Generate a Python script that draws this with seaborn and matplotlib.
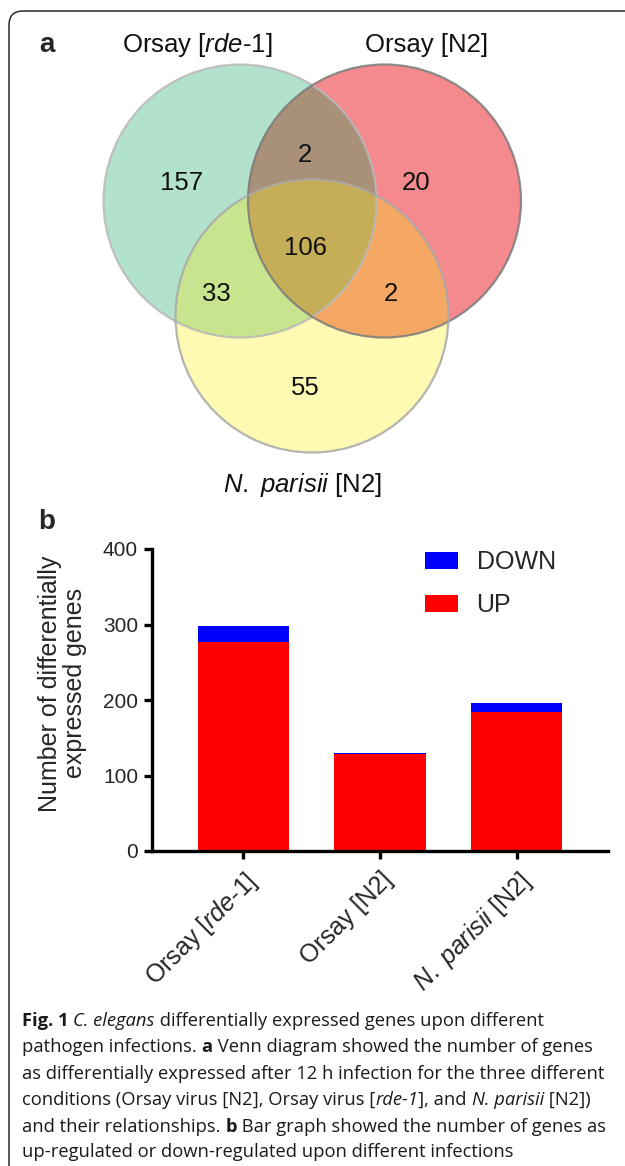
import numpy as np
import pandas as pd
import matplotlib
matplotlib.use("Agg")
import matplotlib.pyplot as plt
from matplotlib.patches import Circle, Polygon, Patch, FancyBboxPatch
import seaborn as sns

# ---------------- data ----------------
venn_sets = ["Orsay [rde-1]", "Orsay [N2]", "N. parisii [N2]"]
venn_region_keys = ["100", "010", "001", "110", "101", "011", "111"]
venn_region_counts = [157, 20, 55, 2, 33, 2, 106]

bar_categories = ["Orsay [rde-1]", "Orsay [N2]", "N. parisii [N2]"]
bar_tick_labels = [r"Orsay [$\mathit{rde}$-$\mathit{1}$]", "Orsay [N2]",
                   r"$\mathit{N.}$ $\mathit{parisii}$ [N2]"]
up_counts = [277, 128, 184]
down_counts = [21, 2, 12]
y_ticks = [0, 100, 200, 300, 400]

# ---------------- style ----------------
sns.set_style("white")
plt.rcParams['font.family'] = ['Liberation Sans', 'DejaVu Sans']
plt.rcParams['mathtext.fontset'] = 'custom'
plt.rcParams['mathtext.rm'] = 'Liberation Sans'
plt.rcParams['mathtext.it'] = 'Liberation Sans:italic'
plt.rcParams['mathtext.bf'] = 'Liberation Sans:bold'

W, H = 625, 1166
fig = plt.figure(figsize=(W / 100, H / 100), dpi=100)
fig.patch.set_facecolor("white")

# overlay axes in pixel coordinates
ov = fig.add_axes([0, 0, 1, 1], zorder=0)
ov.set_xlim(0, W)
ov.set_ylim(H, 0)
ov.axis("off")
ov.patch.set_alpha(0)

# frame
ov.add_patch(FancyBboxPatch((9, 11), 800, 1400,
                            boxstyle="round,pad=0,rounding_size=14",
                            fc="none", ec="#2a2a2a", lw=1.1))

# ---------------- Venn ----------------
centers = [(240, 201), (384.5, 201), (312, 316)]
radius = 136.5
base_cols = ["#b2e2cb", "#f48a8e", "#fffab3"]
edge_cols = ["#b9b9b9", "#7c7c7c", "#a8a8a8"]
pair_cols = {"110": "#a99079", "101": "#c8e48e", "011": "#f5a863", "111": "#c5ae57"}


def inside(p, c, tol=0.01):
    return np.hypot(p[:, 0] - c[0], p[:, 1] - c[1]) <= radius + tol


def intersection_poly(idx):
    t = np.linspace(0, 2 * np.pi, 3000, endpoint=False)
    pts = []
    for i in idx:
        cx, cy = centers[i]
        p = np.column_stack([cx + radius * np.cos(t), cy + radius * np.sin(t)])
        mask = np.ones(len(p), bool)
        for j in idx:
            if j != i:
                mask &= inside(p, centers[j])
        pts.append(p[mask])
    pts = np.vstack(pts)
    m = pts.mean(axis=0)
    ang = np.arctan2(pts[:, 1] - m[1], pts[:, 0] - m[0])
    return pts[np.argsort(ang)]


for c, col in zip(centers, base_cols):
    ov.add_patch(Circle(c, radius, fc=col, ec="none", zorder=1))
for key, idx in [("110", [0, 1]), ("101", [0, 2]), ("011", [1, 2]), ("111", [0, 1, 2])]:
    ov.add_patch(Polygon(intersection_poly(idx), closed=True, fc=pair_cols[key],
                         ec="none", zorder=2))
for c, ec in zip(centers, edge_cols):
    ov.add_patch(Circle(c, radius, fc="none", ec=ec, lw=1.6, alpha=0.85, zorder=3))

label_pos = {"100": (182, 183), "010": (416, 183), "001": (305, 388),
             "110": (305, 155), "101": (216, 294), "011": (391, 294), "111": (306, 248)}
for key, n in zip(venn_region_keys, venn_region_counts):
    x, y = label_pos[key]
    ov.text(x, y, str(n), ha="center", va="center", fontsize=18.5, color="#111111", zorder=4)

ov.text(197, 45, r"Orsay [$\mathit{rde}$-$\mathit{1}$]", ha="center", va="center",
        fontsize=18.5, color="#111111")
ov.text(427, 45, "Orsay [N2]", ha="center", va="center", fontsize=18.5, color="#111111")
ov.text(303, 485, r"$\mathit{N.}$ $\mathit{parisii}$ [N2]", ha="center", va="center",
        fontsize=18.5, color="#111111")

ov.text(47, 45, "a", ha="center", va="center", fontsize=20, fontweight="bold")
ov.text(47, 522, "b", ha="center", va="center", fontsize=20, fontweight="bold")

# ---------------- bar chart ----------------
axb = fig.add_axes([152 / W, 1 - 851 / H, (608 - 152) / W, (851 - 549) / H], zorder=5)
axb.patch.set_alpha(0)
df = pd.DataFrame({"condition": bar_categories,
                   "UP": up_counts,
                   "DOWN": down_counts})
df["total"] = df["UP"] + df["DOWN"]
sns.barplot(data=df, x="condition", y="total", color="#0000ff", saturation=1,
            width=0.665, ax=axb, order=bar_categories, linewidth=0)
sns.barplot(data=df, x="condition", y="UP", color="#ff0000", saturation=1,
            width=0.665, ax=axb, order=bar_categories, linewidth=0)
axb.set_xlim(-0.665, 2.665)
axb.set_ylim(0, 400)
axb.set_yticks(y_ticks)
axb.set_yticklabels([str(v) for v in y_ticks], fontsize=15)
axb.set_xticks(range(len(bar_categories)))
axb.set_xticklabels(bar_tick_labels, rotation=45, ha="right", rotation_mode="anchor",
                    fontsize=18)
axb.set_xlabel("")
axb.set_ylabel("Number of differentially\nexpressed genes", fontsize=18,
               linespacing=1.05)
axb.yaxis.set_label_coords(-0.142, 0.555)
for s in ["top", "right"]:
    axb.spines[s].set_visible(False)
for s in ["left", "bottom"]:
    axb.spines[s].set_linewidth(2.4)
    axb.spines[s].set_color("black")
axb.tick_params(axis="both", direction="out", length=6, width=2.4, color="black",
                left=True, bottom=True, pad=4)
axb.tick_params(axis="x", pad=6)
handles = [Patch(fc="#0000ff", ec="none", label="DOWN"),
           Patch(fc="#ff0000", ec="none", label="UP")]
axb.legend(handles=handles, loc="upper left", bbox_to_anchor=(0.55, 1.07), frameon=False,
           fontsize=18, handlelength=1.3, handleheight=0.65, labelspacing=0.75,
           handletextpad=0.75)

# ---------------- caption ----------------
cap_font = ["Open Sans", "DejaVu Sans"]
cap_size = 13.2
cap_lines = [
    [("Fig. 1", "b"), (" ", "n"), ("C. elegans", "i"), (" differentially expressed genes upon different", "n")],
    [("pathogen infections. ", "n"), ("a", "b"), (" Venn diagram showed the number of genes", "n")],
    [("as differentially expressed after 12 h infection for the three different", "n")],
    [("conditions (Orsay virus [N2], Orsay virus [", "n"), ("rde-1", "i"), ("], and ", "n"),
     ("N. parisii", "i"), (" [N2])", "n")],
    [("and their relationships. ", "n"), ("b", "b"), (" Bar graph showed the number of genes as", "n")],
    [("up-regulated or down-regulated upon different infections", "n")],
]
cap_y = [1021, 1047, 1074, 1100, 1127, 1152]
renderer = fig.canvas.get_renderer()
for line, y in zip(cap_lines, cap_y):
    x = 22
    for txt, st in line:
        kw = dict(fontsize=cap_size, family=cap_font, color="#1a1a1a", va="center", ha="left")
        if st == "b":
            kw["fontweight"] = "bold"
        if st == "i":
            kw["fontstyle"] = "italic"
        t = ov.text(x, y, txt.replace(" ", "\u00a0"), **kw)
        bb = t.get_window_extent(renderer=renderer)
        x += bb.width

fig.savefig("out.png", dpi=100)
